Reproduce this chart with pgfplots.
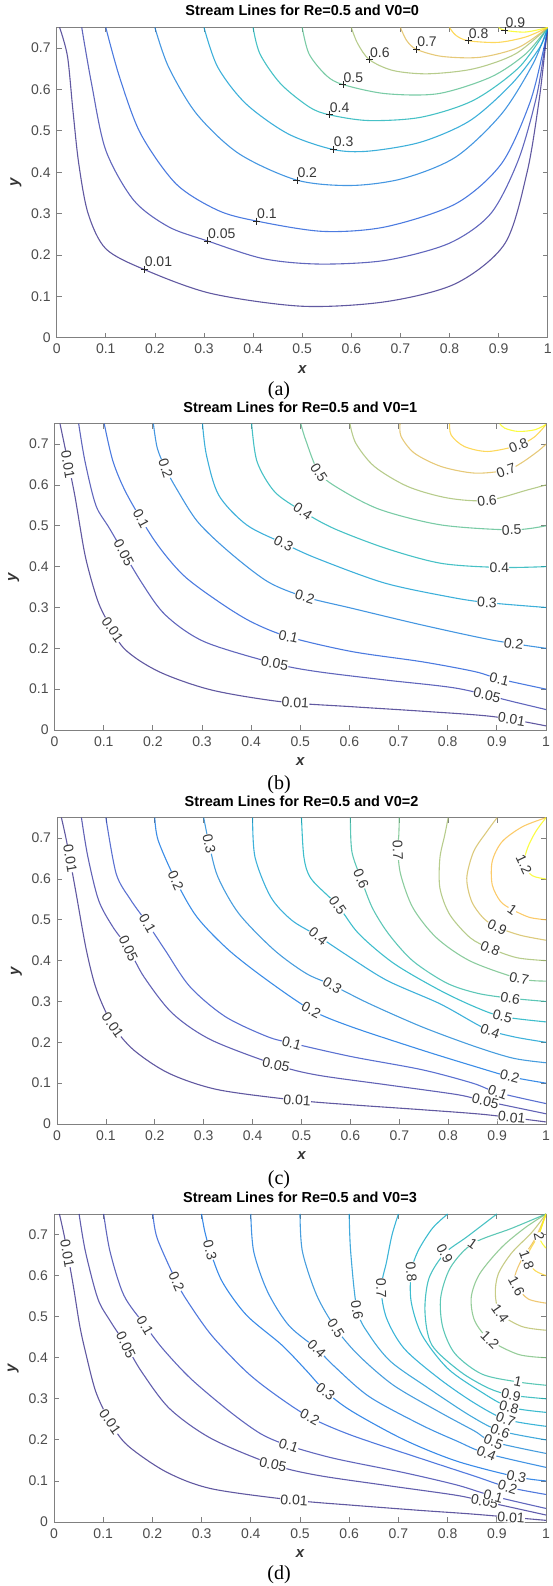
\documentclass[border=0pt]{standalone}
\usepackage{pgfplots}
\pgfplotsset{compat=1.18}
\usepackage{fontspec}
\setmainfont{Liberation Sans}
\newfontfamily\capserif{Liberation Serif}

% parula colours, mapped over the contour levels of each panel
\definecolor{pa01}{rgb}{0.208,0.166,0.529}
\definecolor{pa05}{rgb}{0.209,0.234,0.667}
\definecolor{pa10}{rgb}{0.101,0.337,0.844}
\definecolor{pa20}{rgb}{0.067,0.480,0.852}
\definecolor{pa30}{rgb}{0.030,0.605,0.817}
\definecolor{pa40}{rgb}{0.074,0.689,0.714}
\definecolor{pa50}{rgb}{0.334,0.741,0.554}
\definecolor{pa60}{rgb}{0.640,0.746,0.422}
\definecolor{pa70}{rgb}{0.876,0.728,0.324}
\definecolor{pa80}{rgb}{0.989,0.804,0.181}
\definecolor{pa90}{rgb}{0.976,0.983,0.054}

\definecolor{pc01}{rgb}{0.208,0.166,0.529}
\definecolor{pc05}{rgb}{0.212,0.217,0.633}
\definecolor{pc10}{rgb}{0.177,0.285,0.767}
\definecolor{pc20}{rgb}{0.018,0.428,0.878}
\definecolor{pc30}{rgb}{0.079,0.510,0.836}
\definecolor{pc40}{rgb}{0.030,0.606,0.817}
\definecolor{pc50}{rgb}{0.037,0.673,0.745}
\definecolor{pc60}{rgb}{0.188,0.719,0.638}
\definecolor{pc70}{rgb}{0.419,0.747,0.514}
\definecolor{pc80}{rgb}{0.640,0.746,0.422}
\definecolor{pc90}{rgb}{0.822,0.732,0.348}
\definecolor{pc100}{rgb}{0.982,0.737,0.256}
\definecolor{pc120}{rgb}{0.976,0.983,0.054}

\definecolor{pd01}{rgb}{0.208,0.166,0.529}
\definecolor{pd05}{rgb}{0.212,0.196,0.591}
\definecolor{pd10}{rgb}{0.209,0.235,0.669}
\definecolor{pd20}{rgb}{0.125,0.324,0.830}
\definecolor{pd30}{rgb}{0.008,0.412,0.882}
\definecolor{pd40}{rgb}{0.054,0.463,0.862}
\definecolor{pd50}{rgb}{0.079,0.512,0.835}
\definecolor{pd60}{rgb}{0.053,0.571,0.823}
\definecolor{pd70}{rgb}{0.024,0.627,0.805}
\definecolor{pd80}{rgb}{0.027,0.664,0.761}
\definecolor{pd90}{rgb}{0.090,0.695,0.702}
\definecolor{pd100}{rgb}{0.191,0.720,0.635}
\definecolor{pd120}{rgb}{0.474,0.749,0.490}
\definecolor{pd140}{rgb}{0.718,0.741,0.391}
\definecolor{pd160}{rgb}{0.923,0.726,0.301}
\definecolor{pd180}{rgb}{0.982,0.821,0.168}
\definecolor{pd200}{rgb}{0.976,0.983,0.054}

\tikzset{
  cl/.style={fill=white, inner sep=0.3pt, text=black!78, font=\fontsize{14}{14}\selectfont},
  pl/.style={anchor=base west, inner sep=0pt, xshift=0.5pt, yshift=2.5pt, text=black!78, font=\fontsize{14}{14}\selectfont},
  captxt/.style={font=\capserif\fontsize{20}{20}\selectfont},
}
\pgfplotsset{
  stream/.style={
    scale only axis, anchor=south west,
    xmin=0, xmax=1, ymin=0, ymax=0.75,
    xtick={0,0.1,0.2,0.3,0.4,0.5,0.6,0.7,0.8,0.9,1},
    ytick={0,0.1,0.2,0.3,0.4,0.5,0.6,0.7},
    tick align=inside, major tick length=5pt,
    axis line style={black!50, line width=0.8pt},
    every tick/.style={black!50, line width=0.8pt},
    tick label style={font=\fontsize{14}{14}\selectfont, text=black!70},
    xticklabel style={yshift=-3pt},
    yticklabel style={xshift=-2.5pt},
    /pgf/number format/assume math mode=true,
    title style={font=\bfseries\fontsize{14.5}{15}\selectfont, at={(axis description cs:0.5,1)}, anchor=base, yshift=5.5pt, inner sep=0pt},
    xlabel={x}, ylabel={y},
    label style={font=\bfseries\itshape\fontsize{15}{15}\selectfont, text=black!80},
    xlabel style={at={(axis description cs:0.5,-0.104)}, anchor=center},
    ylabel style={at={(axis description cs:-0.083,0.5)}, anchor=center},
    clip mode=individual,
    every axis plot/.append style={smooth, line width=1.1pt, draw opacity=0.78},
  },
}

\begin{document}
\begin{tikzpicture}
\useasboundingbox (0pt,0pt) rectangle (552pt,1586pt);

% ---------------- (a) V0=0
\begin{axis}[stream, at={(56.7pt,1248.3pt)}, width=491pt, height=310.2pt,
  title={Stream Lines for Re=0.5 and V0=0}]
\addplot[pa01] coordinates {(0.006,0.75) (0.022,0.68) (0.033,0.55) (0.045,0.42) (0.064,0.3) (0.1,0.215) (0.178,0.165) (0.314,0.107) (0.5,0.076) (0.67,0.087) (0.813,0.131) (0.913,0.228) (0.958,0.4) (0.982,0.57) (0.995,0.7) (1,0.75)};
\addplot[pa05] coordinates {(0.051,0.75) (0.071,0.614) (0.1,0.453) (0.157,0.332) (0.228,0.268) (0.307,0.234) (0.421,0.191) (0.535,0.178) (0.67,0.187) (0.799,0.228) (0.884,0.3) (0.94,0.429) (0.977,0.582) (0.995,0.71) (1,0.75)};
\addplot[pa10] coordinates {(0.1,0.75) (0.128,0.63) (0.171,0.493) (0.243,0.372) (0.328,0.308) (0.407,0.282) (0.542,0.257) (0.67,0.268) (0.813,0.324) (0.906,0.421) (0.963,0.566) (0.991,0.694) (1,0.75)};
\addplot[pa20] coordinates {(0.2,0.75) (0.228,0.654) (0.285,0.541) (0.371,0.445) (0.489,0.381) (0.6,0.368) (0.706,0.385) (0.813,0.437) (0.906,0.541) (0.97,0.662) (1,0.75)};
\addplot[pa30] coordinates {(0.3,0.75) (0.328,0.654) (0.385,0.566) (0.471,0.493) (0.563,0.455) (0.635,0.451) (0.742,0.473) (0.842,0.525) (0.927,0.614) (0.984,0.702) (1,0.75)};
\addplot[pa40] coordinates {(0.4,0.75) (0.414,0.686) (0.456,0.614) (0.514,0.558) (0.555,0.539) (0.635,0.525) (0.742,0.533) (0.849,0.574) (0.942,0.654) (1,0.75)};
\addplot[pa50] coordinates {(0.5,0.75) (0.514,0.686) (0.549,0.634) (0.583,0.612) (0.67,0.59) (0.777,0.59) (0.884,0.63) (0.955,0.686) (1,0.75)};
\addplot[pa60] coordinates {(0.6,0.75) (0.613,0.711) (0.637,0.672) (0.685,0.646) (0.756,0.638) (0.849,0.65) (0.934,0.686) (1,0.75)};
\addplot[pa70] coordinates {(0.7,0.75) (0.713,0.718) (0.733,0.697) (0.785,0.68) (0.863,0.678) (0.941,0.702) (1,0.75)};
\addplot[pa80] coordinates {(0.8,0.75) (0.813,0.731) (0.838,0.718) (0.899,0.714) (0.955,0.727) (1,0.75)};
\addplot[pa90] coordinates {(0.9,0.75) (0.913,0.743) (0.955,0.739) (1,0.75)};
\addplot[only marks, mark=+, mark size=3.5pt, black!85, line width=0.6pt, draw opacity=1] coordinates {
  (0.178,0.165) (0.307,0.234) (0.407,0.282) (0.489,0.381) (0.563,0.455) (0.555,0.539)
  (0.583,0.612) (0.637,0.672) (0.733,0.697) (0.838,0.718) (0.913,0.743)};
\node[pl] at (axis cs:0.178,0.165) {0.01};
\node[pl] at (axis cs:0.307,0.234) {0.05};
\node[pl] at (axis cs:0.407,0.282) {0.1};
\node[pl] at (axis cs:0.489,0.381) {0.2};
\node[pl] at (axis cs:0.563,0.455) {0.3};
\node[pl] at (axis cs:0.555,0.539) {0.4};
\node[pl] at (axis cs:0.583,0.612) {0.5};
\node[pl] at (axis cs:0.637,0.672) {0.6};
\node[pl] at (axis cs:0.733,0.697) {0.7};
\node[pl] at (axis cs:0.838,0.718) {0.8};
\node[pl] at (axis cs:0.913,0.743) {0.9};
\end{axis}
\node[captxt] at (279pt,1195pt) {(a)};

% ---------------- (b) V0=1
\begin{axis}[stream, at={(54.6pt,856pt)}, width=491.4pt, height=306.3pt,
  title={Stream Lines for Re=0.5 and V0=1}]
\addplot[pa01] coordinates {(0.011,0.75) (0.023,0.681) (0.041,0.575) (0.062,0.428) (0.084,0.33) (0.101,0.281) (0.141,0.2) (0.212,0.143) (0.319,0.098) (0.462,0.069) (0.605,0.057) (0.748,0.046) (0.891,0.033) (1,0.01)};
\addplot[pa05] coordinates {(0.049,0.75) (0.062,0.657) (0.084,0.55) (0.112,0.493) (0.176,0.363) (0.226,0.281) (0.305,0.216) (0.448,0.163) (0.534,0.143) (0.676,0.122) (0.819,0.102) (0.934,0.069) (1,0.05)};
\addplot[pa10] coordinates {(0.101,0.75) (0.119,0.657) (0.148,0.575) (0.205,0.461) (0.262,0.379) (0.334,0.314) (0.4,0.265) (0.476,0.228) (0.605,0.192) (0.748,0.167) (0.855,0.143) (0.905,0.125) (1,0.1)};
\addplot[pa20] coordinates {(0.201,0.75) (0.209,0.69) (0.226,0.64) (0.248,0.591) (0.291,0.51) (0.355,0.436) (0.434,0.363) (0.509,0.326) (0.605,0.298) (0.748,0.257) (0.891,0.22) (1,0.2)};
\addplot[pa30] coordinates {(0.301,0.75) (0.309,0.673) (0.334,0.575) (0.391,0.502) (0.466,0.457) (0.534,0.42) (0.671,0.36) (0.807,0.325) (0.88,0.312) (1,0.3)};
\addplot[pa40] coordinates {(0.401,0.75) (0.412,0.657) (0.448,0.583) (0.505,0.535) (0.569,0.493) (0.676,0.444) (0.787,0.408) (0.905,0.398) (1,0.4)};
\addplot[pa50] coordinates {(0.501,0.75) (0.511,0.71) (0.538,0.63) (0.583,0.588) (0.664,0.539) (0.787,0.502) (0.93,0.49) (1,0.5)};
\addplot[pa60] coordinates {(0.601,0.75) (0.613,0.702) (0.651,0.645) (0.719,0.596) (0.8,0.568) (0.88,0.562) (0.963,0.588) (1,0.6)};
\addplot[pa70] coordinates {(0.703,0.75) (0.705,0.719) (0.732,0.678) (0.787,0.645) (0.855,0.629) (0.919,0.636) (0.95,0.654) (0.984,0.683) (1,0.7)};
\addplot[pa80] coordinates {(0.804,0.75) (0.807,0.722) (0.834,0.694) (0.882,0.682) (0.944,0.697) (0.977,0.718) (1,0.748)};
\addplot[pa90] coordinates {(0.906,0.75) (0.916,0.739) (0.943,0.731) (0.977,0.735) (1,0.748)};
\node[cl, rotate=-80] at (axis cs:0.027,0.65) {0.01};
\node[cl, rotate=-55] at (axis cs:0.118,0.246) {0.01};
\node[cl, rotate=-4] at (axis cs:0.49,0.067) {0.01};
\node[cl, rotate=-9] at (axis cs:0.93,0.026) {0.01};
\node[cl, rotate=-62] at (axis cs:0.141,0.434) {0.05};
\node[cl, rotate=-10] at (axis cs:0.448,0.163) {0.05};
\node[cl, rotate=-13] at (axis cs:0.88,0.085) {0.05};
\node[cl, rotate=-62] at (axis cs:0.176,0.518) {0.1};
\node[cl, rotate=-12] at (axis cs:0.476,0.228) {0.1};
\node[cl, rotate=-14] at (axis cs:0.905,0.125) {0.1};
\node[cl, rotate=-72] at (axis cs:0.226,0.64) {0.2};
\node[cl, rotate=-16] at (axis cs:0.509,0.326) {0.2};
\node[cl, rotate=-8] at (axis cs:0.934,0.211) {0.2};
\node[cl, rotate=-28] at (axis cs:0.466,0.457) {0.3};
\node[cl, rotate=-4] at (axis cs:0.88,0.312) {0.3};
\node[cl, rotate=-35] at (axis cs:0.505,0.535) {0.4};
\node[cl] at (axis cs:0.905,0.398) {0.4};
\node[cl, rotate=-57] at (axis cs:0.538,0.63) {0.5};
\node[cl, rotate=3] at (axis cs:0.93,0.49) {0.5};
\node[cl, rotate=6] at (axis cs:0.88,0.562) {0.6};
\node[cl, rotate=20] at (axis cs:0.919,0.636) {0.7};
\node[cl, rotate=22] at (axis cs:0.944,0.697) {0.8};
\end{axis}
\node[captxt] at (279pt,801pt) {(b)};

% ---------------- (c) V0=2
\begin{axis}[stream, at={(57pt,462pt)}, width=489pt, height=306.3pt,
  title={Stream Lines for Re=0.5 and V0=2}]
\addplot[pc01] coordinates {(0.009,0.75) (0.02,0.69) (0.038,0.572) (0.06,0.426) (0.081,0.328) (0.114,0.242) (0.157,0.181) (0.229,0.124) (0.329,0.084) (0.491,0.058) (0.602,0.047) (0.746,0.035) (0.876,0.023) (1,0.005)};
\addplot[pc05] coordinates {(0.05,0.75) (0.063,0.655) (0.085,0.548) (0.114,0.483) (0.146,0.43) (0.178,0.36) (0.236,0.271) (0.315,0.206) (0.448,0.145) (0.531,0.12) (0.674,0.096) (0.818,0.072) (0.876,0.056) (1,0.025)};
\addplot[pc10] coordinates {(0.1,0.75) (0.121,0.613) (0.15,0.55) (0.185,0.491) (0.221,0.426) (0.272,0.336) (0.344,0.263) (0.43,0.214) (0.48,0.198) (0.602,0.165) (0.746,0.133) (0.85,0.1) (0.901,0.077) (1,0.05)};
\addplot[pc20] coordinates {(0.2,0.75) (0.207,0.694) (0.243,0.596) (0.286,0.507) (0.351,0.426) (0.43,0.352) (0.52,0.279) (0.602,0.238) (0.746,0.181) (0.854,0.141) (0.926,0.116) (1,0.1)};
\addplot[pc30] coordinates {(0.3,0.75) (0.311,0.686) (0.329,0.605) (0.372,0.515) (0.444,0.426) (0.509,0.369) (0.563,0.34) (0.638,0.295) (0.746,0.238) (0.854,0.19) (0.933,0.161) (1,0.15)};
\addplot[pc40] coordinates {(0.4,0.75) (0.405,0.653) (0.437,0.556) (0.48,0.499) (0.534,0.46) (0.588,0.417) (0.674,0.352) (0.782,0.295) (0.854,0.247) (0.886,0.228) (0.94,0.212) (1,0.2)};
\addplot[pc50] coordinates {(0.5,0.75) (0.505,0.653) (0.52,0.6) (0.574,0.535) (0.617,0.466) (0.689,0.393) (0.782,0.328) (0.854,0.287) (0.911,0.263) (1,0.25)};
\addplot[pc60] coordinates {(0.6,0.75) (0.603,0.667) (0.622,0.6) (0.645,0.529) (0.679,0.464) (0.728,0.399) (0.797,0.345) (0.86,0.32) (0.927,0.308) (1,0.3)};
\addplot[pc70] coordinates {(0.7,0.75) (0.699,0.708) (0.697,0.671) (0.703,0.61) (0.728,0.529) (0.776,0.456) (0.845,0.399) (0.945,0.356) (1,0.35)};
\addplot[pc80] coordinates {(0.8,0.75) (0.793,0.708) (0.783,0.651) (0.783,0.578) (0.803,0.513) (0.845,0.456) (0.886,0.43) (0.941,0.407) (1,0.4)};
\addplot[pc90] coordinates {(0.9,0.75) (0.879,0.716) (0.852,0.667) (0.838,0.602) (0.848,0.545) (0.872,0.504) (0.9,0.482) (0.948,0.462) (1,0.45)};
\addplot[pc100] coordinates {(1,0.75) (0.952,0.728) (0.91,0.691) (0.89,0.643) (0.89,0.586) (0.907,0.545) (0.931,0.525) (0.966,0.506) (1,0.5)};
\addplot[pc120] coordinates {(1,0.75) (0.979,0.716) (0.962,0.675) (0.955,0.635) (0.972,0.608) (1,0.6)};
\node[cl, rotate=-80] at (axis cs:0.027,0.65) {0.01};
\node[cl, rotate=-55] at (axis cs:0.114,0.242) {0.01};
\node[cl, rotate=-4] at (axis cs:0.491,0.058) {0.01};
\node[cl, rotate=-6] at (axis cs:0.93,0.016) {0.01};
\node[cl, rotate=-65] at (axis cs:0.146,0.43) {0.05};
\node[cl, rotate=-12] at (axis cs:0.448,0.145) {0.05};
\node[cl, rotate=-13] at (axis cs:0.876,0.056) {0.05};
\node[cl, rotate=-60] at (axis cs:0.185,0.491) {0.1};
\node[cl, rotate=-15] at (axis cs:0.48,0.198) {0.1};
\node[cl, rotate=-20] at (axis cs:0.901,0.077) {0.1};
\node[cl, rotate=-66] at (axis cs:0.243,0.596) {0.2};
\node[cl, rotate=-28] at (axis cs:0.52,0.279) {0.2};
\node[cl, rotate=-15] at (axis cs:0.926,0.116) {0.2};
\node[cl, rotate=-78] at (axis cs:0.311,0.686) {0.3};
\node[cl, rotate=-32] at (axis cs:0.563,0.34) {0.3};
\node[cl, rotate=-40] at (axis cs:0.534,0.46) {0.4};
\node[cl, rotate=-20] at (axis cs:0.886,0.228) {0.4};
\node[cl, rotate=-55] at (axis cs:0.574,0.535) {0.5};
\node[cl, rotate=-15] at (axis cs:0.911,0.263) {0.5};
\node[cl, rotate=-67] at (axis cs:0.622,0.6) {0.6};
\node[cl, rotate=-10] at (axis cs:0.927,0.308) {0.6};
\node[cl, rotate=-88] at (axis cs:0.697,0.671) {0.7};
\node[cl, rotate=-12] at (axis cs:0.945,0.356) {0.7};
\node[cl, rotate=-22] at (axis cs:0.886,0.43) {0.8};
\node[cl, rotate=-25] at (axis cs:0.9,0.482) {0.9};
\node[cl, rotate=-35] at (axis cs:0.931,0.525) {1};
\node[cl, rotate=-65] at (axis cs:0.955,0.635) {1.2};
\end{axis}
\node[captxt] at (279pt,406pt) {(c)};

% ---------------- (d) V0=3
\begin{axis}[stream, at={(54pt,64pt)}, width=492pt, height=308pt,
  title={Stream Lines for Re=0.5 and V0=3}]
\addplot[pd01] coordinates {(0.011,0.75) (0.022,0.69) (0.039,0.577) (0.052,0.48) (0.064,0.414) (0.085,0.317) (0.114,0.244) (0.149,0.187) (0.228,0.122) (0.32,0.081) (0.488,0.053) (0.605,0.041) (0.747,0.028) (0.854,0.019) (1,0.004)};
\addplot[pd05] coordinates {(0.051,0.75) (0.064,0.658) (0.089,0.544) (0.114,0.49) (0.146,0.431) (0.178,0.366) (0.235,0.276) (0.32,0.203) (0.445,0.14) (0.534,0.114) (0.676,0.089) (0.818,0.065) (0.875,0.05) (0.932,0.035) (1,0.017)};
\addplot[pd10] coordinates {(0.101,0.75) (0.114,0.658) (0.142,0.552) (0.185,0.479) (0.221,0.422) (0.278,0.349) (0.356,0.27) (0.42,0.215) (0.477,0.186) (0.569,0.155) (0.712,0.12) (0.819,0.09) (0.893,0.063) (1,0.033)};
\addplot[pd20] coordinates {(0.201,0.75) (0.21,0.69) (0.249,0.585) (0.27,0.54) (0.32,0.455) (0.391,0.366) (0.45,0.31) (0.52,0.255) (0.605,0.211) (0.747,0.154) (0.854,0.112) (0.922,0.085) (1,0.067)};
\addplot[pd30] coordinates {(0.3,0.75) (0.306,0.71) (0.317,0.662) (0.342,0.585) (0.391,0.504) (0.463,0.431) (0.512,0.37) (0.552,0.318) (0.605,0.27) (0.712,0.2) (0.819,0.148) (0.94,0.11) (1,0.1)};
\addplot[pd40] coordinates {(0.4,0.75) (0.406,0.658) (0.434,0.561) (0.477,0.479) (0.534,0.422) (0.569,0.38) (0.641,0.305) (0.747,0.236) (0.819,0.197) (0.879,0.167) (1,0.133)};
\addplot[pd50] coordinates {(0.5,0.75) (0.505,0.658) (0.534,0.552) (0.573,0.471) (0.619,0.406) (0.69,0.333) (0.783,0.268) (0.854,0.222) (0.893,0.195) (1,0.167)};
\addplot[pd60] coordinates {(0.6,0.75) (0.603,0.658) (0.616,0.516) (0.641,0.455) (0.685,0.39) (0.762,0.325) (0.847,0.258) (0.907,0.222) (1,0.2)};
\addplot[pd70] coordinates {(0.7,0.75) (0.687,0.699) (0.676,0.634) (0.665,0.569) (0.676,0.496) (0.712,0.422) (0.783,0.349) (0.854,0.29) (0.918,0.25) (1,0.233)};
\addplot[pd80] coordinates {(0.8,0.75) (0.769,0.715) (0.74,0.66) (0.726,0.609) (0.726,0.536) (0.748,0.455) (0.8,0.374) (0.868,0.317) (0.925,0.28) (1,0.267)};
\addplot[pd90] coordinates {(0.9,0.75) (0.84,0.695) (0.794,0.654) (0.762,0.593) (0.754,0.512) (0.768,0.431) (0.826,0.366) (0.883,0.326) (0.929,0.309) (1,0.3)};
\addplot[pd100] coordinates {(1,0.75) (0.93,0.715) (0.851,0.678) (0.806,0.62) (0.786,0.547) (0.79,0.475) (0.815,0.41) (0.87,0.36) (0.943,0.341) (1,0.333)};
\addplot[pd120] coordinates {(1,0.75) (0.958,0.717) (0.91,0.669) (0.865,0.604) (0.848,0.547) (0.855,0.49) (0.886,0.443) (0.944,0.408) (1,0.4)};
\addplot[pd140] coordinates {(1,0.75) (0.971,0.705) (0.93,0.655) (0.903,0.604) (0.897,0.555) (0.907,0.508) (0.951,0.476) (1,0.467)};
\addplot[pd160] coordinates {(1,0.75) (0.978,0.69) (0.951,0.64) (0.937,0.6) (0.94,0.574) (0.964,0.543) (1,0.533)};
\addplot[pd180] coordinates {(1,0.75) (0.985,0.7) (0.966,0.66) (0.961,0.638) (0.978,0.612) (1,0.6)};
\addplot[pd200] coordinates {(1,0.75) (0.99,0.715) (0.986,0.695) (0.993,0.677) (1,0.667)};
\node[cl, rotate=-80] at (axis cs:0.027,0.654) {0.01};
\node[cl, rotate=-55] at (axis cs:0.114,0.244) {0.01};
\node[cl, rotate=-4] at (axis cs:0.488,0.053) {0.01};
\node[cl, rotate=-4] at (axis cs:0.929,0.011) {0.01};
\node[cl, rotate=-64] at (axis cs:0.146,0.431) {0.05};
\node[cl, rotate=-12] at (axis cs:0.445,0.14) {0.05};
\node[cl, rotate=-10] at (axis cs:0.875,0.05) {0.05};
\node[cl, rotate=-60] at (axis cs:0.185,0.479) {0.1};
\node[cl, rotate=-18] at (axis cs:0.477,0.186) {0.1};
\node[cl, rotate=-15] at (axis cs:0.893,0.063) {0.1};
\node[cl, rotate=-66] at (axis cs:0.249,0.585) {0.2};
\node[cl, rotate=-28] at (axis cs:0.52,0.255) {0.2};
\node[cl, rotate=-18] at (axis cs:0.922,0.085) {0.2};
\node[cl, rotate=-76] at (axis cs:0.317,0.662) {0.3};
\node[cl, rotate=-38] at (axis cs:0.552,0.318) {0.3};
\node[cl, rotate=-12] at (axis cs:0.94,0.11) {0.3};
\node[cl, rotate=-45] at (axis cs:0.534,0.422) {0.4};
\node[cl, rotate=-22] at (axis cs:0.879,0.167) {0.4};
\node[cl, rotate=-58] at (axis cs:0.573,0.471) {0.5};
\node[cl, rotate=-22] at (axis cs:0.893,0.195) {0.5};
\node[cl, rotate=-80] at (axis cs:0.616,0.516) {0.6};
\node[cl, rotate=-20] at (axis cs:0.907,0.222) {0.6};
\node[cl, rotate=-88] at (axis cs:0.665,0.569) {0.7};
\node[cl, rotate=-20] at (axis cs:0.918,0.25) {0.7};
\node[cl, rotate=-85] at (axis cs:0.726,0.609) {0.8};
\node[cl, rotate=-15] at (axis cs:0.925,0.28) {0.8};
\node[cl, rotate=-62] at (axis cs:0.794,0.654) {0.9};
\node[cl, rotate=-12] at (axis cs:0.929,0.309) {0.9};
\node[cl, rotate=-35] at (axis cs:0.851,0.678) {1};
\node[cl, rotate=-12] at (axis cs:0.943,0.341) {1};
\node[cl, rotate=-45] at (axis cs:0.886,0.443) {1.2};
\node[cl, rotate=-55] at (axis cs:0.907,0.508) {1.4};
\node[cl, rotate=-62] at (axis cs:0.94,0.574) {1.6};
\node[cl, rotate=-70] at (axis cs:0.961,0.638) {1.8};
\node[cl, rotate=-78] at (axis cs:0.986,0.695) {2};
\end{axis}
\node[captxt] at (279pt,11pt) {(d)};
\end{tikzpicture}
\end{document}
